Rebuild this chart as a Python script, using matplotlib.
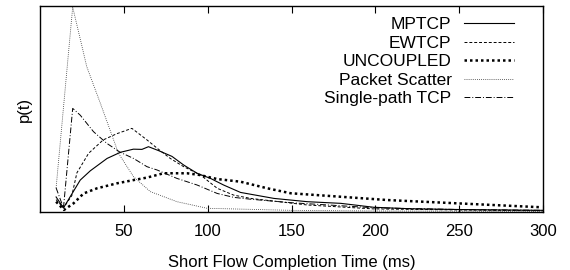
import matplotlib
matplotlib.use("Agg")
import matplotlib.pyplot as plt

plt.rcParams['font.family'] = ['Liberation Sans', 'DejaVu Sans']

# values (y in arbitrary density units)
mptcp_x = [9.6, 14, 24, 30, 40, 48, 55.7, 60.8, 64.7, 70.7, 78.7, 85.7, 93.7,
           101.7, 109.5, 119.6, 139.5, 159.5, 179.4, 199, 220, 250, 300]
mptcp_y = [0.073, 0.02, 0.155, 0.20, 0.26, 0.29, 0.305, 0.304, 0.317, 0.298,
           0.27, 0.228, 0.188, 0.163, 0.131, 0.095, 0.066, 0.05, 0.042, 0.023,
           0.016, 0.012, 0.008]

ewtcp_x = [9.6, 14, 19, 22, 29, 37.7, 45.8, 54.8, 63.8, 69.8, 77.7, 85.7, 95.7,
           105.7, 115.5, 125.6, 159.5, 199, 250, 300]
ewtcp_y = [0.06, 0.02, 0.08, 0.19, 0.285, 0.35, 0.38, 0.406, 0.35, 0.31, 0.26,
           0.22, 0.18, 0.115, 0.082, 0.066, 0.034, 0.015, 0.01, 0.006]

unc_x = [9.6, 14.3, 20, 26, 34, 45.8, 55.8, 63.8, 73.7, 87.7, 95, 105.7, 119.6,
         135.6, 149.5, 179.4, 207.3, 249, 299]
unc_y = [0.05, 0.01, 0.042, 0.09, 0.115, 0.139, 0.155, 0.167, 0.188, 0.188,
         0.18, 0.16, 0.147, 0.115, 0.091, 0.074, 0.058, 0.042, 0.023]

ps_x = [9.6, 19.5, 27.9, 35.9, 46.8, 55.8, 65.8, 81.7, 99.7, 150, 200, 300]
ps_y = [0.117, 0.995, 0.705, 0.53, 0.285, 0.171, 0.099, 0.05, 0.018, 0.008,
        0.005, 0.003]

sp_x = [9.6, 14, 19.5, 24, 31.9, 39.9, 47.8, 55.8, 63.8, 69.8, 81.7, 93.7,
        105.7, 115.6, 125.6, 150, 200, 250, 300]
sp_y = [0.117, 0.02, 0.503, 0.47, 0.39, 0.333, 0.29, 0.26, 0.22, 0.204, 0.163,
        0.131, 0.09, 0.071, 0.062, 0.045, 0.02, 0.012, 0.008]

xticks = [50, 100, 150, 200, 250, 300]

fig = plt.figure(figsize=(5.7, 2.7), dpi=100)
ax = fig.add_axes([40 / 570, 58 / 270, 503 / 570, 206 / 270])

ax.plot(mptcp_x, mptcp_y, color='black', lw=0.8, ls='-', label='MPTCP')
ax.plot(ewtcp_x, ewtcp_y, color='black', lw=0.7, ls=(0, (3, 2)), label='EWTCP')
ax.plot(unc_x, unc_y, color='black', lw=1.8, ls=(0, (1, 1.2)), label='UNCOUPLED')
ax.plot(ps_x, ps_y, color='#333333', lw=0.6, ls=(0, (1, 1.5)), label='Packet Scatter')
ax.plot(sp_x, sp_y, color='black', lw=0.7, ls=(0, (6, 2, 1, 2)), label='Single-path TCP')

ax.set_xlim(0, 300)
ax.set_ylim(0, 1)
ax.set_xticks(xticks)
ax.set_yticks([])
ax.tick_params(axis='x', direction='in', length=5, width=0.8, top=True,
               labelsize=12, pad=9)
for s in ax.spines.values():
    s.set_linewidth(1.0)

ax.set_xlabel('Short Flow Completion Time (ms)', fontsize=12, labelpad=11)
ax.set_ylabel('p(t)', fontsize=12, labelpad=6)

ax.legend(loc='upper right', frameon=False, markerfirst=False, fontsize=12.5,
          handlelength=2.9, handletextpad=0.7, labelspacing=0.19,
          borderaxespad=0.25, bbox_to_anchor=(0.965, 1.0))

fig.savefig('out.png', dpi=100)
